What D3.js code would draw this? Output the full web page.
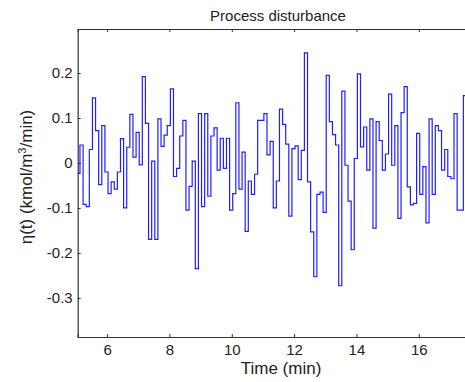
<!DOCTYPE html>
<html>
<head>
<meta charset="utf-8">
<script src="https://cdn.jsdelivr.net/npm/d3@7"></script>
<style>
  body { margin: 0; background: #fff; }
  text { font-family: "Liberation Sans", Arial, Helvetica, sans-serif; fill: #222; }
</style>
</head>
<body>
<svg id="chart" width="465" height="382"></svg>
<script>
// disturbance samples, one every 0.1 min
const startTime = 5.03;
const sampleTime = 0.1;
const disturbance = [
  -0.023, 0.04, -0.092, -0.097, 0.03, 0.145, 0.072, -0.048, 0.083, -0.02,
  -0.068, -0.042, -0.058, -0.02, 0.054, -0.1, 0.035, 0.108, 0.013, 0.068,
  -0.004, 0.192, 0.088, -0.17, 0.004, -0.17, 0.098, 0.037, 0.062, 0.083,
  0.165, -0.03, -0.012, 0.06, 0.095, -0.105, -0.052, 0.004, -0.235, 0.11,
  -0.097, 0.11, -0.074, 0.06, 0.078, -0.016, 0.055, -0.012, 0.055, -0.105,
  -0.068, 0.134, -0.058, 0.024, -0.152, -0.04, -0.07, -0.025, 0.095, 0.095,
  0.11, 0.018, 0.048, -0.1, -0.04, 0.12, 0.086, 0.042, -0.118, 0.032,
  0.038, -0.037, 0.028, 0.245, -0.042, -0.153, -0.253, -0.07, -0.065, -0.11,
  0.195, 0.092, 0.063, 0.04, -0.273, 0.16, -0.005, -0.085, -0.193, 0.01,
  0.198, 0.036, 0.08, -0.016, 0.098, -0.145, 0.092, 0.05, -0.016, 0.02,
  0.153, -0.005, 0.083, -0.123, 0.112, 0.17, -0.053, -0.093, -0.09, 0.066,
  -0.07, -0.008, -0.133, 0.098, -0.07, 0.083, 0.072, -0.016, 0.03, -0.03,
  -0.035, 0.11, -0.105, -0.105, 0.15
];
const xTicks = [6, 8, 10, 12, 14, 16];
const yTicks = [-0.3, -0.2, -0.1, 0, 0.1, 0.2];
const xDomain = [5.057, 20];
const yDomain = [-0.387, 0.298];

const svg = d3.select("#chart");
const plotLeft = 77.7, plotTop = 29, plotBottom = 337;
const pxPerMin = 31.17;
const plotRight = plotLeft + (xDomain[1] - xDomain[0]) * pxPerMin;

const x = d3.scaleLinear().domain(xDomain).range([plotLeft, plotRight]);
const y = d3.scaleLinear().domain(yDomain).range([plotBottom, plotTop]);

const points = disturbance.map((v, i) => ({ t: startTime + i * sampleTime, v: v }));
points.push({ t: startTime + disturbance.length * sampleTime, v: disturbance[disturbance.length - 1] });

svg.append("clipPath").attr("id", "plot-clip")
  .append("rect")
  .attr("x", plotLeft).attr("y", plotTop)
  .attr("width", plotRight - plotLeft).attr("height", plotBottom - plotTop);

const line = d3.line()
  .x(d => x(d.t))
  .y(d => y(d.v))
  .curve(d3.curveStepAfter);

svg.append("path")
  .datum(points)
  .attr("clip-path", "url(#plot-clip)")
  .attr("d", line)
  .attr("fill", "none")
  .attr("stroke", "#1f1fff")
  .attr("stroke-width", 1.2);

const fmt = d => d === 0 ? "0" : String(d);

// axes, matlab style ticks inside the box
const xAxisBottom = d3.axisBottom(x).tickValues(xTicks).tickSize(-3).tickPadding(7).tickFormat(fmt);
const xAxisTop = d3.axisTop(x).tickValues(xTicks).tickSize(-3).tickFormat("");
const yAxis = d3.axisLeft(y).tickValues(yTicks).tickSize(-3).tickPadding(5).tickFormat(fmt);

function styleAxis(g) {
  g.select(".domain").attr("stroke", "#333").attr("stroke-width", 1.2);
  g.selectAll(".tick line").attr("stroke", "#333");
  g.selectAll(".tick text")
    .attr("fill", "#222")
    .style("font-size", "15px")
    .style("font-family", "'Liberation Sans', Arial, sans-serif");
}

svg.append("g").attr("transform", `translate(0,${plotBottom})`).call(xAxisBottom).call(styleAxis);
svg.append("g").attr("transform", `translate(0,${plotTop})`).call(xAxisTop).call(styleAxis);
svg.append("g").attr("transform", `translate(${plotLeft},0)`).call(yAxis).call(styleAxis);

svg.append("text")
  .attr("x", 278).attr("y", 21)
  .attr("text-anchor", "middle")
  .style("font-size", "15px")
  .text("Process disturbance");

svg.append("text")
  .attr("x", 281).attr("y", 374)
  .attr("text-anchor", "middle")
  .style("font-size", "17px")
  .text("Time (min)");

const ylab = svg.append("text")
  .attr("transform", "translate(32,177) rotate(-90)")
  .attr("text-anchor", "middle")
  .style("font-size", "17px");
ylab.append("tspan").text("η(t) (kmol/m");
ylab.append("tspan").attr("dy", -6).style("font-size", "11px").text("3");
ylab.append("tspan").attr("dy", 6).text("/min)");
</script>
</body>
</html>
